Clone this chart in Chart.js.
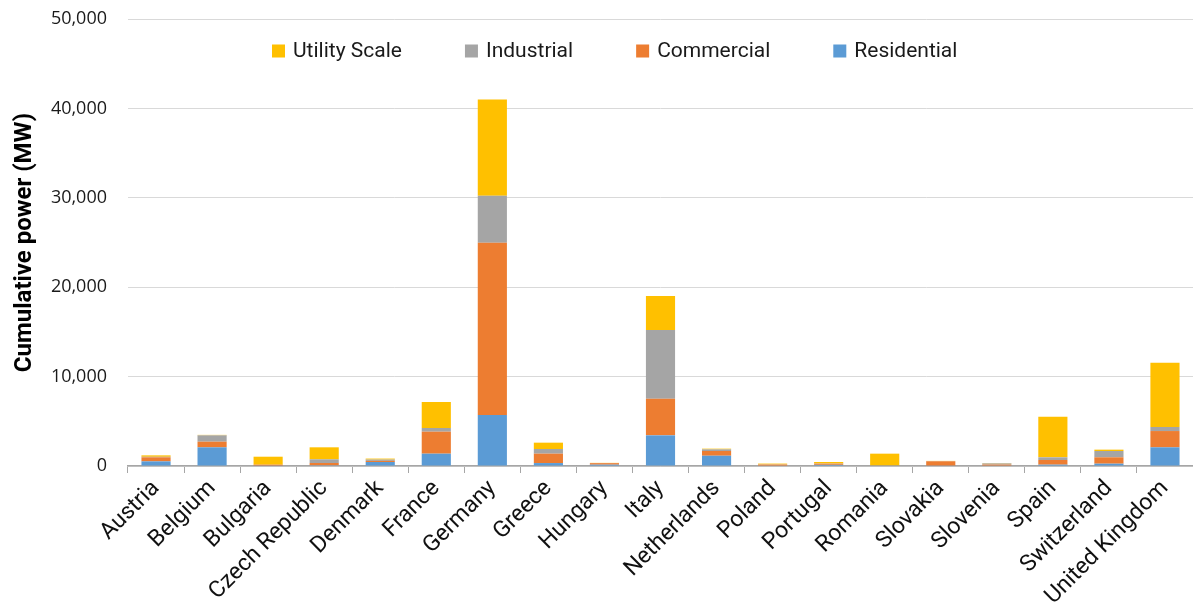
<!DOCTYPE html>
<html>
<head>
<meta charset="utf-8">
<script src="https://cdn.jsdelivr.net/npm/chart.js@4.4.1/dist/chart.umd.min.js"></script>
<style>
  html, body { margin: 0; padding: 0; background: #fff; }
  #wrap { width: 1193px; height: 605px; position: relative; }
</style>
</head>
<body>
<div id="wrap"><canvas id="pv-chart"></canvas></div>
<script>
const countries = ['Austria', 'Belgium', 'Bulgaria', 'Czech Republic', 'Denmark', 'France', 'Germany', 'Greece', 'Hungary', 'Italy', 'Netherlands', 'Poland', 'Portugal', 'Romania', 'Slovakia', 'Slovenia', 'Spain', 'Switzerland', 'United Kingdom'];
const residential = [520, 2090, 30, 80, 450, 1380, 5700, 330, 150, 3430, 1150, 50, 130, 30, 30, 40, 150, 260, 2090];
const commercial = [450, 630, 120, 255, 120, 2460, 19280, 1050, 170, 4100, 530, 110, 130, 20, 500, 120, 520, 710, 1820];
const industrial = [60, 710, 0, 410, 150, 410, 5250, 520, 10, 7680, 180, 20, 20, 10, 20, 130, 300, 710, 450];
const utilityScale = [160, 50, 890, 1345, 110, 2910, 10770, 710, 20, 3810, 80, 90, 170, 1320, 20, 40, 4550, 150, 7200];
const yTicks = [0, 10000, 20000, 30000, 40000, 50000];

// legend sits inside the plot area, so draw it ourselves
const innerLegend = {
    id: 'innerLegend',
    afterDraw: (chart, args, opts) => {
        const { ctx } = chart
        ctx.save()
        ctx.font = opts.font
        ctx.textBaseline = 'middle'
        let x = opts.x
        const items = chart.data.datasets.slice().reverse()
        items.forEach(ds => {
            ctx.fillStyle = ds.backgroundColor
            ctx.fillRect(x, opts.y - 6.5, 13, 13)
            ctx.fillStyle = '#1a1a1a'
            ctx.fillText(ds.label, x + 21, opts.y + 1)
            x += 21 + ctx.measureText(ds.label).width + opts.gap
        })
        ctx.restore()
    }
}

new Chart(document.getElementById('pv-chart'), {
    type: 'bar',
    data: {
        labels: countries,
        datasets: [
            { label: 'Residential', data: residential, backgroundColor: '#5B9BD5' },
            { label: 'Commercial', data: commercial, backgroundColor: '#ED7D31' },
            { label: 'Industrial', data: industrial, backgroundColor: '#A5A5A5' },
            { label: 'Utility Scale', data: utilityScale, backgroundColor: '#FFC000' }
        ]
    },
    options: {
        responsive: true,
        maintainAspectRatio: false,
        animation: false,
        devicePixelRatio: 1,
        layout: { padding: { top: 19, right: 0, bottom: 0, left: 0 } },
        datasets: { bar: { barPercentage: 0.52, categoryPercentage: 1 } },
        scales: {
            x: {
                stacked: true,
                grid: { drawOnChartArea: false, drawTicks: true, tickLength: 7, color: '#a6a6a6' },
                border: { display: true, color: '#a6a6a6', width: 1.5 },
                ticks: {
                    color: '#111',
                    font: { family: 'Roboto', size: 23 },
                    minRotation: 45,
                    maxRotation: 45,
                    padding: 2,
                    autoSkip: false
                },
                afterFit: scale => { scale.height = 139 }
            },
            y: {
                stacked: true,
                min: 0,
                max: 50000,
                afterBuildTicks: scale => { scale.ticks = yTicks.map(v => ({ value: v })) },
                grid: { color: '#d9d9d9', drawTicks: true, tickLength: 18, tickColor: 'rgba(0,0,0,0)', lineWidth: 1 },
                border: { display: false },
                ticks: {
                    color: '#1a1a1a',
                    font: { family: 'Open Sans', size: 18 },
                    padding: 3,
                    callback: v => v.toLocaleString('en-US')
                },
                title: {
                    display: true,
                    text: 'Cumulative power (MW)',
                    color: '#000',
                    font: { family: 'Roboto', size: 24, weight: 'bold' },
                    padding: { top: 11, bottom: 0 }
                },
                afterFit: scale => { scale.width = 128 }
            }
        },
        plugins: {
            legend: { display: false },
            tooltip: { enabled: false },
            innerLegend: { x: 272, y: 51, gap: 63, font: '21px Roboto' }
        }
    },
    plugins: [innerLegend]
})
</script>
</body>
</html>
